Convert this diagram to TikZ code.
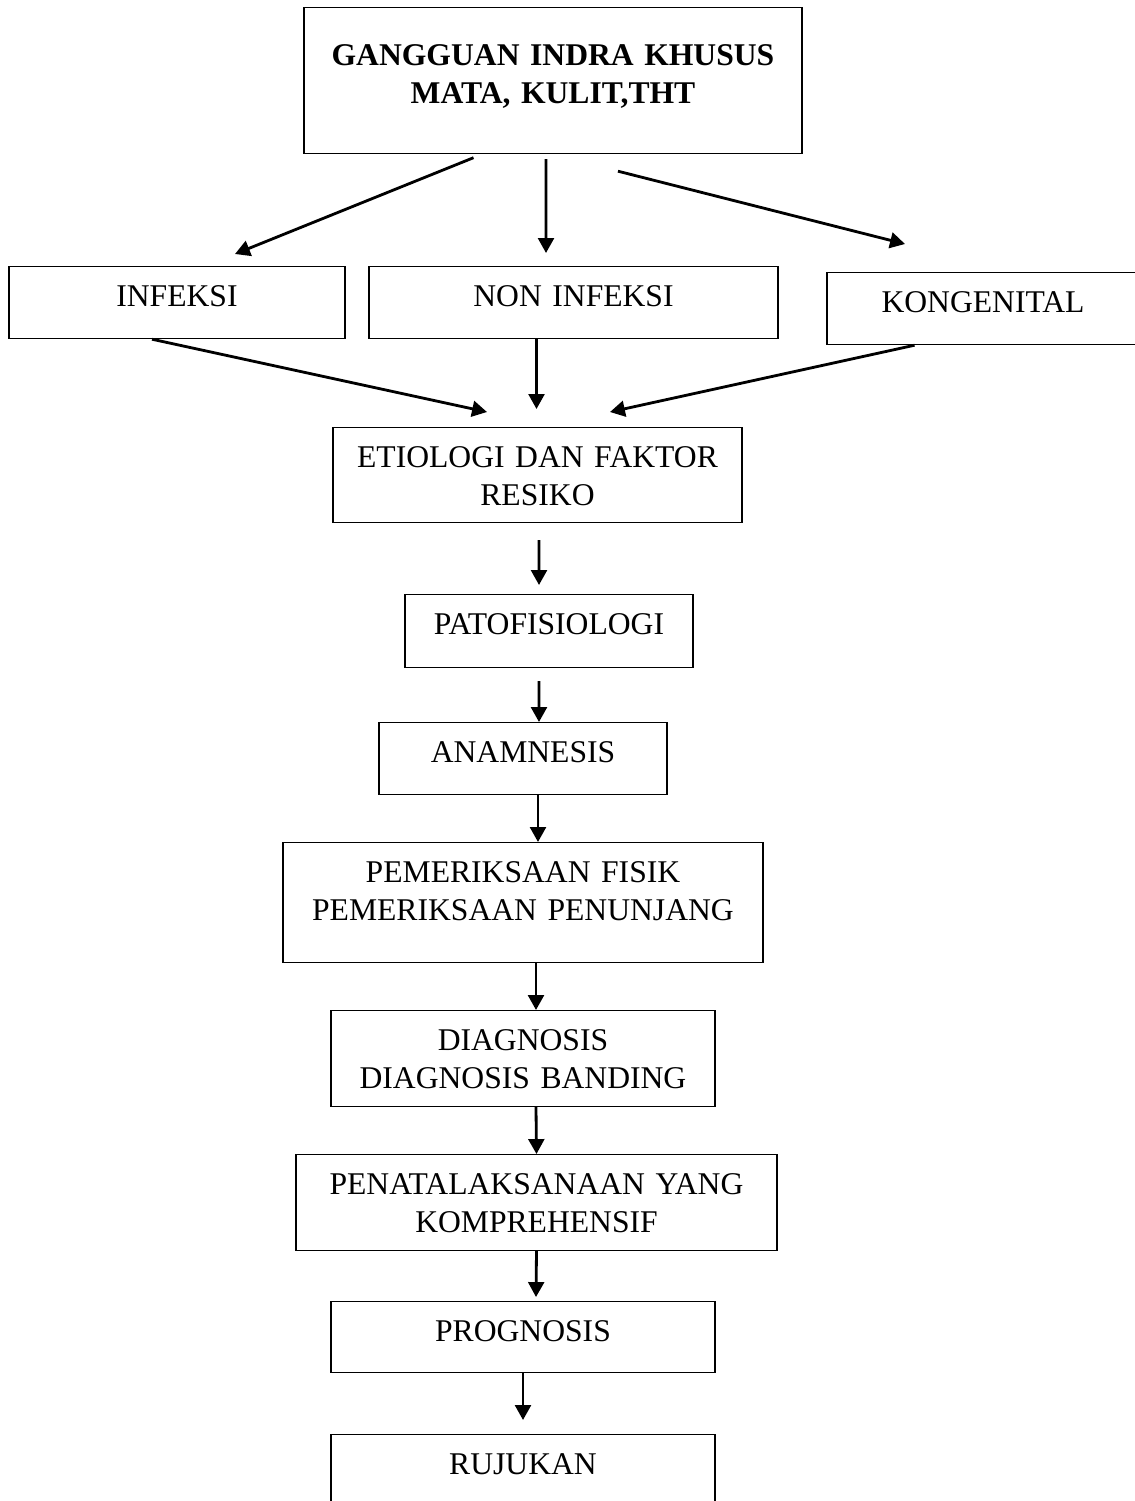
\documentclass[tikz,border=0pt]{standalone}
\usepackage{fontspec}
\setmainfont{Liberation Serif}
\usepackage{tikz}
\usetikzlibrary{arrows.meta}
\tikzstyle{box} = [rectangle, draw, line width=0.7pt, inner sep=0pt, align=center, anchor=north, text height=0.8cm, font=\fontsize{18}{21.8}\selectfont]
\tikzstyle{arrow} = [line width=1.6pt,-{Triangle[length=8.5pt,width=9pt]}]

\begin{document}
\begin{tikzpicture}[x=0.02cm, y=-0.02cm]
\useasboundingbox (0,0) rectangle (1135,1501);

\node [box, text width=9.96cm, text height=1.16cm, text depth=1.76cm, font=\fontsize{18}{21.8}\selectfont\bfseries] (a) at (553,7) {GANGGUAN INDRA KHUSUS\\MATA, KULIT,THT};

\node [box, text width=6.72cm, text depth=0.64cm] (a1) at (177,266) {INFEKSI};
\node [box, text width=8.18cm, text depth=0.64cm] (a2) at (573.5,266) {NON INFEKSI};
\node [box, text width=6.24cm, text depth=0.64cm] (a3) at (983,272) {KONGENITAL};

\node [box, text width=8.18cm, text depth=1.1cm] (b) at (537.5,427) {ETIOLOGI DAN FAKTOR\\RESIKO};
\node [box, text width=5.76cm, text depth=0.66cm] (c) at (549,594) {PATOFISIOLOGI};
\node [box, text width=5.76cm, text depth=0.64cm] (d) at (523,722) {ANAMNESIS};
\node [box, text width=9.6cm, text depth=1.6cm] (e) at (523,842) {PEMERIKSAAN FISIK\\PEMERIKSAAN PENUNJANG};
\node [box, text width=7.68cm, text depth=1.12cm] (f) at (523,1010) {DIAGNOSIS\\DIAGNOSIS BANDING};
\node [box, text width=9.62cm, text depth=1.12cm] (g) at (536.5,1154) {PENATALAKSANAAN YANG\\KOMPREHENSIF};
\node [box, text width=7.68cm, text depth=0.62cm] (h) at (523,1301) {PROGNOSIS};
\node [box, text width=7.68cm, text depth=0.64cm] (i) at (523,1434) {RUJUKAN};

\draw [arrow] ([xshift=-1.59cm,yshift=-0.07cm]a.south) to ([xshift=1.16cm,yshift=0.24cm]a1.north);
\draw [arrow] ([xshift=-0.14cm,yshift=-0.1cm]a.south) to ([xshift=-0.55cm,yshift=0.26cm]a2.north);
\draw [arrow] ([xshift=1.3cm,yshift=-0.34cm]a.south) to ([xshift=-1.56cm,yshift=0.56cm]a3.north);

\draw [arrow] ([xshift=-0.5cm]a1.south) to ([xshift=-1.01cm,yshift=0.3cm]b.north);
\draw [arrow] ([xshift=-0.74cm]a2.south) to ([xshift=-0.02cm,yshift=0.36cm]b.north);
\draw [arrow] ([xshift=-1.37cm]a3.south) to ([xshift=1.45cm,yshift=0.3cm]b.north);

\draw [arrow] ([xshift=0.03cm,yshift=-0.34cm]b.south) to ([xshift=-0.2cm,yshift=0.18cm]c.north);
\draw [arrow] ([xshift=-0.2cm,yshift=-0.26cm]c.south) to ([xshift=0.32cm]d.north);
\draw [arrow] ([xshift=0.3cm]d.south) to ([xshift=0.3cm]e.north);
\draw [arrow] ([xshift=0.26cm]e.south) to ([xshift=0.26cm]f.north);
\draw [arrow] ([xshift=0.26cm]f.south) to (g.north);
\draw [arrow] (g.south) to ([xshift=0.26cm,yshift=0.08cm]h.north);
\draw [arrow] (h.south) to ([yshift=0.28cm]i.north);
\end{tikzpicture}
\end{document}
